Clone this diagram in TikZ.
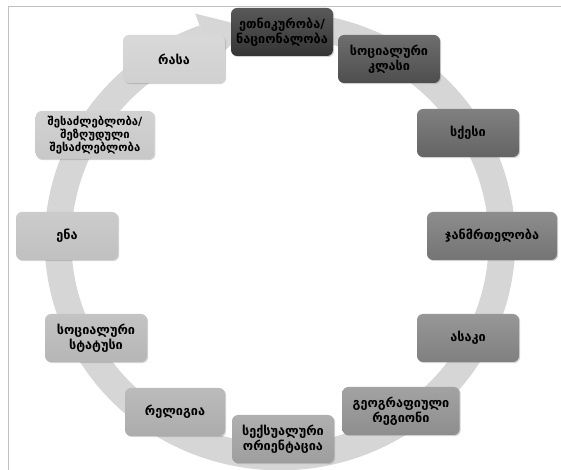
\documentclass[tikz,border=0pt]{standalone}
\usepackage{fontspec}
\newfontfamily\geo{DejaVu Sans}
\usetikzlibrary{shadows}

\definecolor{framegray}{RGB}{192,192,192}
\definecolor{ringgray}{RGB}{214,214,214}
\definecolor{boxa}{RGB}{52,52,52}
\definecolor{boxb}{RGB}{78,78,78}
\definecolor{boxc}{RGB}{100,100,100}
\definecolor{boxd}{RGB}{116,116,116}
\definecolor{boxe}{RGB}{128,128,128}
\definecolor{boxf}{RGB}{142,142,142}
\definecolor{boxg}{RGB}{158,158,158}
\definecolor{boxh}{RGB}{172,172,172}
\definecolor{boxi}{RGB}{182,182,182}
\definecolor{boxj}{RGB}{192,192,192}
\definecolor{boxk}{RGB}{200,200,200}
\definecolor{boxl}{RGB}{208,208,208}

\begin{document}
\begin{tikzpicture}[x=0.75pt,y=0.75pt,yscale=-1,xscale=1,
	box/.style={rounded corners=4.5pt, minimum width=76.5pt, minimum height=36pt, inner sep=1pt, align=center,
		top color=#1!82!white, bottom color=#1,
		drop shadow={shadow xshift=0.8pt, shadow yshift=-0.8pt, opacity=0.35},
		font=\geo\bfseries\fontsize{9.5}{11.5}\selectfont}]
	\useasboundingbox (0,0) rectangle (561,470);
	
	%Straight Lines: frame
	\draw [framegray, line width=0.75pt] (8,470) -- (8,7) -- (561,7) ;
	
	%Shape: Circular Arrow
	\draw [ringgray, line width=20pt, shift={(280,241)}] (275:222 and 216) arc [start angle=275, end angle=610, x radius=222, y radius=216] ;
	\fill [ringgray, shift={(280,241)}] (250:248 and 242) -- (262:222 and 216) -- (250:196 and 190) -- cycle ;
	
	% Boxes, clockwise from the top
	\node (ethnic) [box=boxa] at (282,32) {ეთნიკურობა/\\ნაციონალობა};
	\node (class) [box=boxb] at (389,59) {სოციალური\\კლასი};
	\node (sex) [box=boxc] at (468,133) {სქესი};
	\node (health) [box=boxd, minimum width=97.5pt] at (492,236) {ჯანმრთელობა};
	\node (age) [box=boxe] at (468,338) {ასაკი};
	\node (region) [box=boxf, minimum width=88pt] at (401,411) {გეოგრაფიული\\რეგიონი};
	\node (orient) [box=boxg] at (283,439) {სექსუალური\\ორიენტაცია};
	\node (religion) [box=boxh, minimum width=75pt] at (175,412) {რელიგია};
	\node (status) [box=boxi] at (96,338) {სოციალური\\სტატუსი};
	\node (lang) [box=boxj] at (67,236) {ენა};
	\node (ability) [box=boxk, minimum width=89pt, font=\geo\bfseries\fontsize{8.5}{10}\selectfont] at (95,135) {შესაძლებლობა/\\შეზღუდული\\შესაძლებლობა};
	\node (race) [box=boxl] at (174,59) {რასა};
	
\end{tikzpicture}
\end{document}
